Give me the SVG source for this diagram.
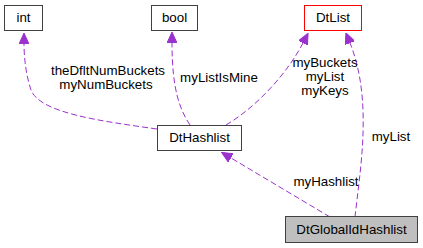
<svg xmlns="http://www.w3.org/2000/svg" width="423" height="248" viewBox="0 0 423 248">
<style>
.box{fill:#ffffff;stroke:#404040;stroke-width:1}
.t{font-family:"Liberation Sans",Arial,sans-serif;font-size:13.33px;fill:#000000;text-anchor:middle}
.e{fill:none;stroke:#9a32cd;stroke-width:1;stroke-dasharray:6,3}
</style>
<defs>
<marker id="ah" viewBox="0 0 11 10" refX="0" refY="5" markerWidth="11" markerHeight="10" markerUnits="userSpaceOnUse" orient="auto">
<path d="M0,0 L11,5 L0,10 z" fill="#9a32cd" stroke="#9a32cd" stroke-width="1"/>
</marker>
</defs>
<rect width="423" height="248" fill="#ffffff"/>
<g id="connectors">
<path class="e" d="M157,129 C100,121 40,113 31,90 C26,75 24,58 24,44" marker-end="url(#ah)"/>
<path class="e" d="M190,125 C180,110 172,90 172,43" marker-end="url(#ah)"/>
<path class="e" d="M226,125 C258,106 288,72 303,43" marker-end="url(#ah)"/>
<path class="e" d="M355,217 C360,170 373,100 350,43" marker-end="url(#ah)"/>
<path class="e" d="M330,217 L231,158" marker-end="url(#ah)"/>
<text class="t" x="108" y="75">theDfltNumBuckets</text>
<text class="t" x="106" y="89">myNumBuckets</text>
<text class="t" x="219" y="82">myListIsMine</text>
<text class="t" x="325" y="67">myBuckets</text>
<text class="t" x="325" y="81">myList</text>
<text class="t" x="325" y="95">myKeys</text>
<text class="t" x="391" y="141">myList</text>
<text class="t" x="326" y="186">myHashlist</text>
</g>
<g id="int">
<rect class="box" x="4.5" y="5.5" width="38" height="25"/>
<text class="t" x="23.5" y="22">int</text>
</g>
<g id="bool">
<rect class="box" x="151.5" y="5.5" width="46" height="25"/>
<text class="t" x="174.5" y="22">bool</text>
</g>
<g id="DtList">
<rect class="box" x="304.5" y="5.5" width="57" height="25" style="stroke:#ff0000"/>
<text class="t" x="333" y="22">DtList</text>
</g>
<g id="DtHashlist">
<rect class="box" x="157.5" y="125.5" width="84" height="25"/>
<text class="t" x="199.5" y="142">DtHashlist</text>
</g>
<g id="DtGlobalIdHashlist">
<rect class="box" x="285.5" y="216.5" width="132" height="26" style="fill:#bfbfbf"/>
<text class="t" x="351.5" y="234">DtGlobalIdHashlist</text>
</g>
</svg>
